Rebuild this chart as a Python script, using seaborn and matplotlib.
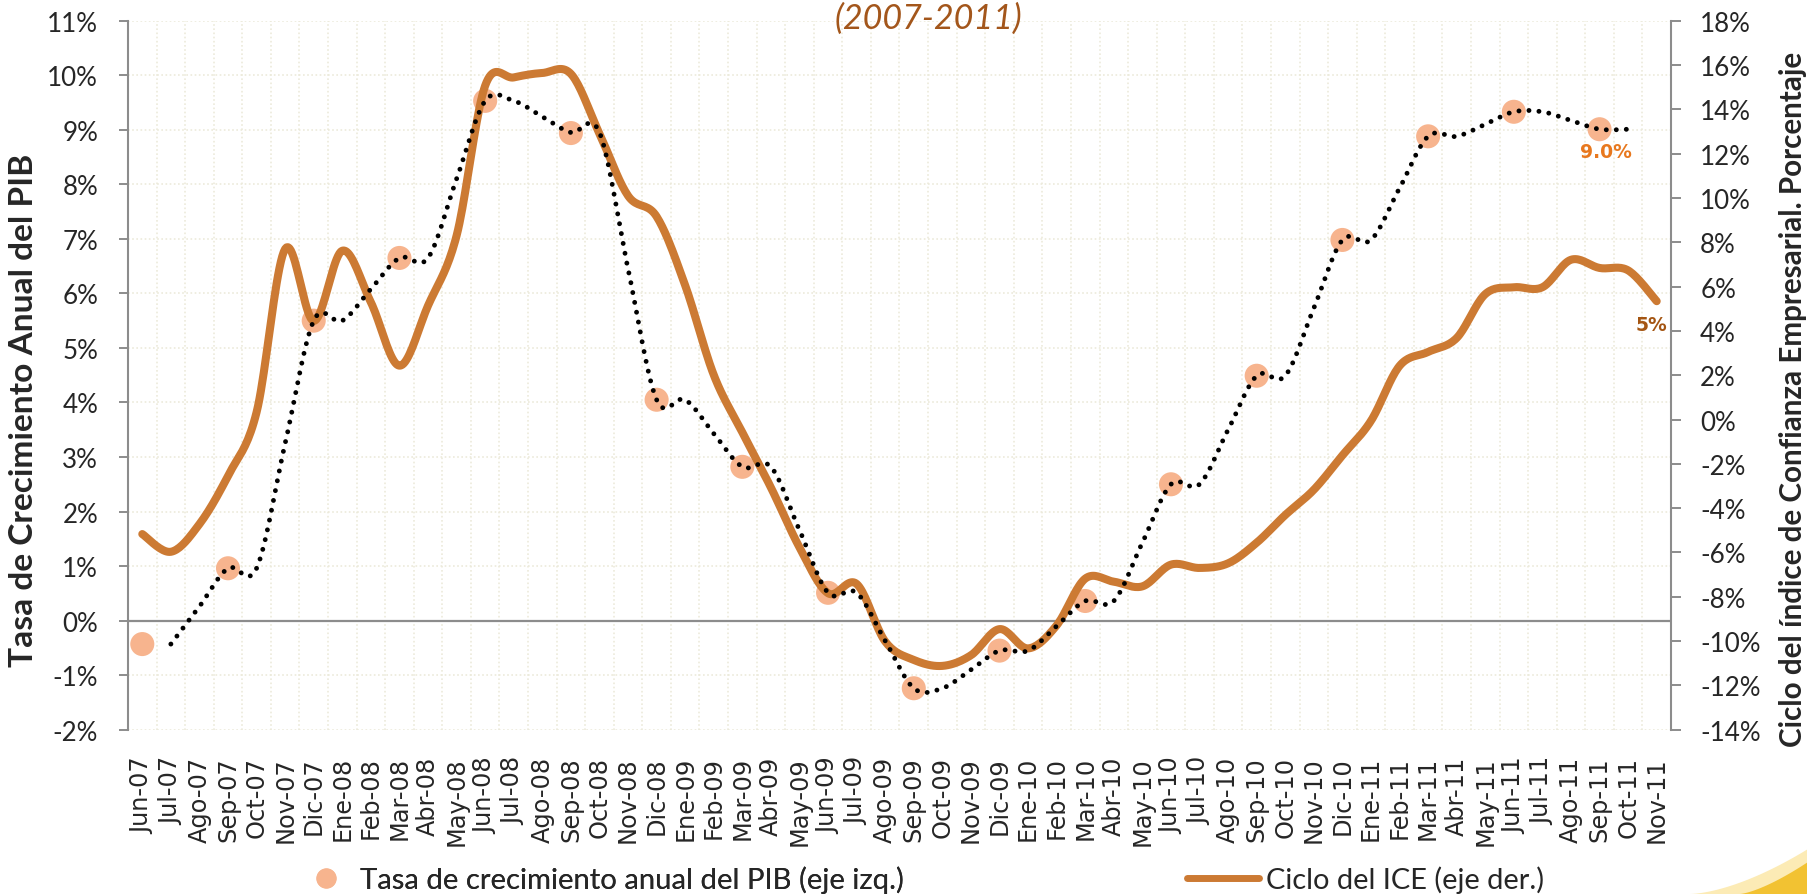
import numpy as np
import matplotlib
matplotlib.use("Agg")
import matplotlib.pyplot as plt
import seaborn as sns
from matplotlib.lines import Line2D
from matplotlib.patches import Polygon

# ---------------- data ----------------
mnames = ["Ene", "Feb", "Mar", "Abr", "May", "Jun", "Jul", "Ago", "Sep", "Oct", "Nov", "Dic"]
months = ([f"{m}-07" for m in mnames[5:]] + [f"{m}-08" for m in mnames] +
          [f"{m}-09" for m in mnames] + [f"{m}-10" for m in mnames] +
          [f"{m}-11" for m in mnames[:11]])

# quarterly GDP growth (left axis, %), Jun-07 ... Sep-11
gdp_q_labels = months[0:52:3]
gdp_q = [-0.43, 0.96, 5.50, 6.65, 9.53, 8.94, 4.05, 2.82, 0.51, -1.24,
         -0.55, 0.36, 2.50, 4.49, 6.98, 8.88, 9.33, 9.01]

# monthly GDP series (dotted line), Jul-07 ... Oct-11
gdp_m_labels = months[1:53]
gdp_m = [-0.43, 0.26, 0.96, 0.96, 3.25, 5.50,
         5.50, 6.08, 6.65, 6.65, 8.10, 9.53, 9.53, 9.24, 8.95, 8.95, 6.45, 4.05,
         4.05, 3.43, 2.82, 2.82, 1.66, 0.51, 0.51, -0.37, -1.24, -1.24, -0.90, -0.55,
         -0.55, -0.10, 0.36, 0.36, 1.43, 2.50, 2.50, 3.50, 4.49, 4.49, 5.73, 6.98,
         6.98, 7.93, 8.88, 8.88, 9.10, 9.33, 9.33, 9.17, 9.01, 9.01]

# ICE cycle (right axis, %), Jun-07 ... Nov-11
ice = [-5.17, -5.97, -4.72, -2.54, 0.33, 7.70, 4.45,
       7.62, 5.29, 2.43, 5.14, 8.30, 15.07, 15.44, 15.64, 15.60, 12.90, 10.10, 9.16,
       6.05, 2.01, -0.58, -3.07, -5.77, -7.84, -7.42, -10.02, -10.85, -11.12, -10.64, -9.46,
       -10.33, -9.29, -7.18, -7.32, -7.53, -6.55, -6.70, -6.49, -5.56, -4.31, -3.17, -1.62,
       -0.06, 2.42, 3.05, 3.68, 5.66, 5.97, 5.97, 7.21, 6.84, 6.73, 5.34]

left_ticks = list(range(-2, 12))
right_ticks = list(range(-14, 19, 2))

title = "(2007-2011)"
ylabel_left = "Tasa de Crecimiento Anual del PIB"
ylabel_right = "Ciclo del índice de Confianza Empresarial. Porcentaje"
legend_gdp = "Tasa de crecimiento anual del PIB (eje izq.)"
legend_ice = "Ciclo del ICE (eje der.)"

# ---------------- helpers ----------------
def smooth(x, y, n=20):
    """Excel-like smoothed line (Catmull-Rom Bezier) through the data points."""
    P = np.column_stack([np.asarray(x, float), np.asarray(y, float)])
    E = np.vstack([P[0], P, P[-1]])
    t = np.linspace(0, 1, n, endpoint=False)[:, None]
    segs = []
    for i in range(len(P) - 1):
        p0, p1, p2, p3 = E[i], E[i + 1], E[i + 2], E[i + 3]
        c1 = p1 + (p2 - p0) / 6.0
        c2 = p2 - (p3 - p1) / 6.0
        segs.append((1 - t) ** 3 * p1 + 3 * (1 - t) ** 2 * t * c1
                    + 3 * (1 - t) * t ** 2 * c2 + t ** 3 * p2)
    segs.append(P[-1:])
    return np.vstack(segs)

# ---------------- style ----------------
sns.set_theme(style="white")
plt.rcParams["font.family"] = ["Lato", "DejaVu Sans"]
plt.rcParams["axes.unicode_minus"] = False

W, H = 1808, 895
fig = plt.figure(figsize=(W / 100, H / 100), dpi=100)
fig.patch.set_facecolor("white")
renderer = fig.canvas.get_renderer()


def fit_size(s, target_px, base=20, **kw):
    t = fig.text(0, 0, s, fontsize=base, **kw)
    w = t.get_window_extent(renderer).width
    t.remove()
    return base * target_px / w


L, R, T, B = 128, 1671, 21.7, 730.7
ax = fig.add_axes([L / W, 1 - B / H, (R - L) / W, (B - T) / H])
ax2 = ax.twinx()
ax.set_facecolor("white")

ORANGE = "#CC7A33"
SALMON = "#F7B48E"
GRID = "#ECEADB"
AXC = "#8C8C8C"

idx = {m: i for i, m in enumerate(months)}
q_x = [idx[m] for m in gdp_q_labels]
m_x = [idx[m] for m in gdp_m_labels]

# quarterly points
sns.scatterplot(x=q_x, y=gdp_q, ax=ax, s=300, color=SALMON, edgecolor="none",
                linewidth=0, zorder=2, legend=False)

# ICE smoothed line (right-axis scale, drawn in the left axes for stacking order)
sm_ice = smooth(range(len(ice)), ice)
sns.lineplot(x=sm_ice[:, 0], y=sm_ice[:, 1], ax=ax, color=ORANGE, linewidth=5.8,
             sort=False, estimator=None, transform=ax2.transData, zorder=3,
             solid_capstyle="round", solid_joinstyle="round")

# dotted GDP monthly line
sm_gdp = smooth(m_x, gdp_m)
sns.lineplot(x=sm_gdp[:, 0], y=sm_gdp[:, 1], ax=ax, color="black", linewidth=3.5,
             linestyle=(0, (0.01, 2.05)), dash_capstyle="round",
             sort=False, estimator=None, zorder=4)

ax.axhline(0, color=AXC, lw=1.6, zorder=1.5)

# axes limits / ticks
ax.set_xlim(-0.5, len(months) - 0.5)
ax.set_ylim(left_ticks[0], left_ticks[-1])
ax2.set_ylim(right_ticks[0], right_ticks[-1])

ytick_size = fit_size("11%", 51)
xtick_size = fit_size("Jun-07", 77, family="DejaVu Sans")

ax.set_yticks(left_ticks)
ax.set_yticklabels([f"{v}%" for v in left_ticks])
ax2.set_yticks(right_ticks)
ax2.set_yticklabels([f"{v}%" for v in right_ticks])

ax.set_xticks(range(len(months)))
ax.set_xticklabels(months, rotation=90, fontfamily="DejaVu Sans", fontsize=xtick_size)
ax.set_xticks(np.arange(-0.5, len(months), 1), minor=True)

ax.grid(False)
ax2.grid(False)
ax.yaxis.grid(True, color=GRID, linestyle=(0, (1, 1.5)), linewidth=1.2)
ax.xaxis.grid(True, which="minor", color=GRID, linestyle=(0, (1, 1.5)), linewidth=1.2)
ax.set_axisbelow(True)

ax.tick_params(axis="x", which="both", length=0, pad=19)
ax.tick_params(axis="y", length=6.5, width=1.4, color=AXC, pad=15,
               labelsize=ytick_size, left=True)
ax2.tick_params(axis="y", length=7, width=1.4, color=AXC, pad=14,
                labelsize=ytick_size, right=True)

for s in ["top", "right", "bottom"]:
    ax.spines[s].set_visible(False)
ax.spines["left"].set_color(AXC)
ax.spines["left"].set_linewidth(1.5)
for s in ["top", "left", "bottom"]:
    ax2.spines[s].set_visible(False)
ax2.spines["right"].set_color(AXC)
ax2.spines["right"].set_linewidth(1.5)
ax.set_xlabel("")
ax.set_ylabel("")
ax2.set_ylabel("")

# data labels
lab_kw = dict(fontweight="bold", family="DejaVu Sans")
s90 = fit_size(f"{gdp_q[-1]:.1f}%", 52, **lab_kw)
ax.annotate(f"{gdp_q[-1]:.1f}%", xy=(q_x[-1], gdp_q[-1]), xytext=(4.3, -15.8),
            textcoords="offset points", ha="center", va="center", fontsize=s90,
            color="#E8781E", zorder=6, **lab_kw)
ax2.annotate(f"{ice[-1]:.0f}%", xy=(len(ice) - 1, ice[-1]), xytext=(-3.6, -16.6),
             textcoords="offset points", ha="center", va="center", fontsize=s90,
             color="#A45512", zorder=6, **lab_kw)

# titles
fig.text(928 / W, 1 - 19 / H, title, style="italic",
         fontsize=fit_size(title, 188, style="italic"),
         color="#A3561B", ha="center", va="center")
fig.text(24 / W, 1 - 410 / H, ylabel_left, rotation=90,
         fontsize=fit_size(ylabel_left, 513, fontweight="bold"),
         fontweight="bold", ha="center", va="center")
fig.text(1793 / W, 1 - 399 / H, ylabel_right, rotation=90,
         fontsize=fit_size(ylabel_right, 698, fontweight="bold"),
         fontweight="bold", ha="center", va="center")

# legends
f1 = fit_size(legend_gdp, 545)
f2 = fit_size(legend_ice, 279)
f1px, f2px = f1 * 100 / 72, f2 * 100 / 72
h1 = Line2D([], [], marker="o", ls="none", markersize=14.5, markerfacecolor=SALMON,
            markeredgecolor="none")
h2 = Line2D([], [], color=ORANGE, lw=5)
leg1 = fig.legend([h1], [legend_gdp],
                  loc="center left", bbox_to_anchor=(309 / W, 1 - 880 / H), frameon=False,
                  fontsize=f1, handlelength=34 / f1px, handletextpad=17 / f1px,
                  borderpad=0, borderaxespad=0)
leg2 = fig.legend([h2], [legend_ice],
                  loc="center left", bbox_to_anchor=(1187 / W, 1 - 880 / H), frameon=False,
                  fontsize=f2, handlelength=72 / f2px, handletextpad=7 / f2px,
                  borderpad=0, borderaxespad=0)
fig.add_artist(leg1)

# decorative swoosh (bottom-right)
tt = np.linspace(0, 1, 40)
outer = [(1690 + 118 * u, 895 - 45 * u ** 1.6) for u in tt] + [(1808, 895)]
inner = [(1740 + 68 * u, 895 - 32 * u ** 1.4) for u in tt] + [(1808, 895)]
for pts, col in [(outer, "#FCEBB5"), (inner, "#F2C232")]:
    fig.add_artist(Polygon([(x / W, 1 - y / H) for x, y in pts], closed=True,
                           transform=fig.transFigure, facecolor=col, edgecolor="none",
                           zorder=-1))

fig.savefig("out.png", dpi=100)
